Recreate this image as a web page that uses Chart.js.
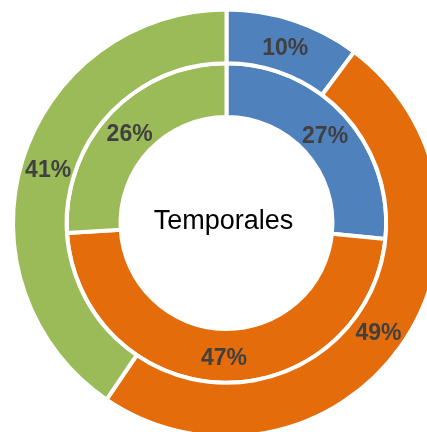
<!DOCTYPE html>
<html><head><meta charset="utf-8">
<script src="https://cdn.jsdelivr.net/npm/chart.js@4"></script>
<style>
html,body{margin:0;padding:0;overflow:hidden;background:#fff;width:427px;height:432px}
canvas{position:absolute;left:0;top:0}
</style></head>
<body><canvas id="c" width="453" height="446"></canvas>
<script>
const categories = ['Categoría 1', 'Categoría 2', 'Categoría 3'];
const outerValues = [10.2, 49.3, 40.5];
const innerValues = [26.6, 47.4, 26.0];
const sliceColors = ['#4F81BD', '#E46C0A', '#9BBB59'];
const centerTitle = 'Temporales';

const labelPlugin = {
  id: 'sliceLabels',
  afterDatasetsDraw(chart) {
    const ctx = chart.ctx;
    ctx.save();
    ctx.font = 'bold 23px "Liberation Sans", Arial, sans-serif';
    ctx.fillStyle = '#404040';
    ctx.textAlign = 'center';
    ctx.textBaseline = 'alphabetic';
    chart.data.datasets.forEach((ds, di) => {
      const meta = chart.getDatasetMeta(di);
      meta.data.forEach((arc, i) => {
        const p = arc.tooltipPosition();
        ctx.fillText(Math.round(ds.data[i]) + '%', p.x, p.y + 9);
      });
    });
    const m = chart.getDatasetMeta(0).data[0];
    ctx.font = '27px "Liberation Sans", Arial, sans-serif';
    ctx.fillStyle = '#000';
    ctx.fillText(centerTitle, m.x - 3, m.y + 6);
    ctx.restore();
  }
};

new Chart(document.getElementById('c'), {
  type: 'doughnut',
  data: {
    labels: categories,
    datasets: [
      { data: outerValues, backgroundColor: sliceColors, borderColor: '#fff', borderWidth: 4 },
      { data: innerValues, backgroundColor: sliceColors, borderColor: '#fff', borderWidth: 4 }
    ]
  },
  options: {
    responsive: false,
    animation: false,
    devicePixelRatio: 1,
    radius: 213.5,
    cutout: '49.65%',
    layout: { padding: 0 },
    plugins: { legend: { display: false }, tooltip: { enabled: false } }
  },
  plugins: [labelPlugin]
});
</script>
</body></html>
